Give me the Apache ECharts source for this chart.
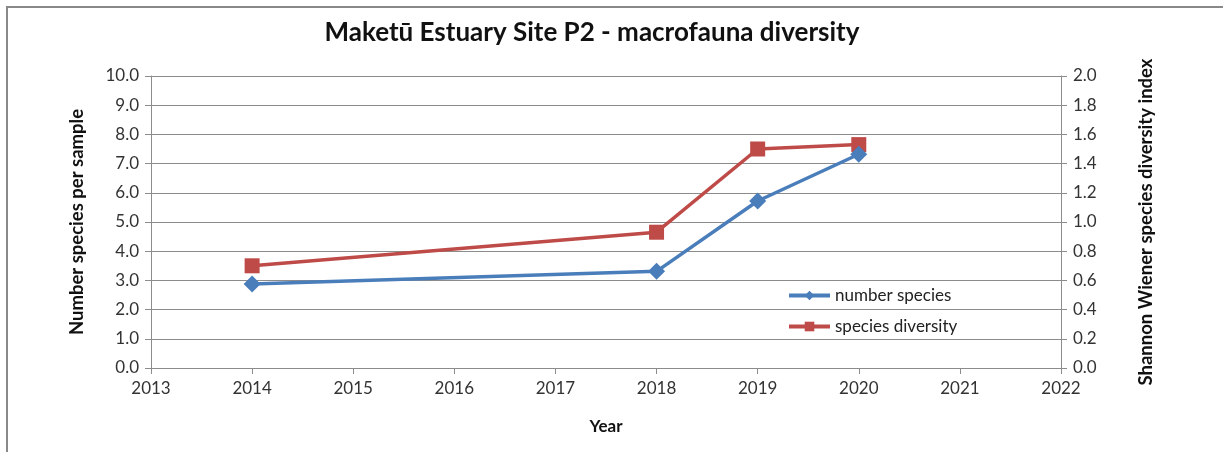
<!DOCTYPE html>
<html lang="en">
	<head>
		<meta charset="UTF-8">
		<title>Maketū Estuary Site P2 - macrofauna diversity</title>
		<style type="text/css">
			html,
			body {
				width: 100%;
				height: 100%;
				margin: 0;
				padding: 0;
				background: #fff;
			}

			#frame {
				position: absolute;
				left: 6px;
				top: 6px;
				right: 0;
				bottom: 0;
				border-top: 2px solid #898989;
				border-left: 2px solid #898989;
			}

			#main {
				position: absolute;
				left: 0;
				top: 0;
				width: 1223px;
				height: 452px;
			}
		</style>
	</head>
	<body>
		<div id="frame"></div>
		<div id="main"></div>

		<script src="https://cdn.jsdelivr.net/npm/echarts@6/dist/echarts.min.js"></script>
		<script type="text/javascript">
			let years = [2014, 2018, 2019, 2020];
			let numberSpecies = [2.88, 3.31, 5.72, 7.32];
			let speciesDiversity = [0.70, 0.93, 1.50, 1.53];
			let seriesNames = ['number species', 'species diversity'];

			let font = 'Lato, "Open Sans", sans-serif';
			let gridColor = '#8c8c8c';

			let myChart = echarts.init(document.getElementById('main'));
			let option = {
				animation: false,
				textStyle: {
					fontFamily: font
				},
				title: {
					text: 'Maketū Estuary Site P2 - macrofauna diversity',
					left: 587,
					top: 15,
					textAlign: 'center',
					textStyle: {
						fontFamily: font,
						fontSize: 26,
						fontWeight: 'bold',
						color: '#111'
					}
				},
				legend: {
					orient: 'vertical',
					left: 782,
					top: 282,
					itemGap: 14,
					itemWidth: 41,
					itemHeight: 12,
					data: seriesNames,
					lineStyle: { width: 4 },
					textStyle: {
						fontSize: 17,
						color: '#222'
					}
				},
				grid: {
					left: 151,
					right: 162,
					top: 76,
					bottom: 84
				},
				xAxis: {
					type: 'value',
					min: 2013,
					max: 2022,
					interval: 1,
					name: 'Year',
					nameLocation: 'middle',
					nameGap: 50,
					nameTextStyle: {
						fontSize: 17,
						fontWeight: 'bold',
						color: '#111'
					},
					axisLine: { lineStyle: { color: gridColor } },
					axisTick: { show: true, length: 6, lineStyle: { color: gridColor } },
					axisLabel: {
						fontSize: 17,
						color: '#333',
						margin: 12,
						formatter: v => String(v)
					},
					splitLine: { show: false }
				},
				yAxis: [{
						type: 'value',
						min: 0,
						max: 10,
						interval: 1,
						name: 'Number species per sample',
						nameLocation: 'middle',
						nameGap: 64,
						nameTextStyle: {
							fontSize: 18.5,
							fontWeight: 'bold',
							color: '#111'
						},
						axisLine: { show: true, lineStyle: { color: gridColor } },
						axisTick: { show: true, length: 6, lineStyle: { color: gridColor } },
						axisLabel: {
							fontSize: 17,
							color: '#333',
							margin: 12,
							formatter: v => v.toFixed(1)
						},
						splitLine: { lineStyle: { color: gridColor, width: 1 } }
					},
					{
						type: 'value',
						min: 0,
						max: 2,
						interval: 0.2,
						position: 'right',
						name: 'Shannon Wiener species diversity index',
						nameLocation: 'middle',
						nameRotate: 90,
						nameGap: 76,
						nameTextStyle: {
							fontSize: 18.5,
							fontWeight: 'bold',
							color: '#111'
						},
						axisLine: { show: true, lineStyle: { color: gridColor } },
						axisTick: { show: true, length: 6, lineStyle: { color: gridColor } },
						axisLabel: {
							fontSize: 17,
							color: '#333',
							margin: 12,
							formatter: v => v.toFixed(1)
						},
						splitLine: { show: false }
					}
				],
				series: [{
						name: seriesNames[0],
						type: 'line',
						yAxisIndex: 0,
						data: years.map((y, i) => [y, numberSpecies[i]]),
						symbol: 'diamond',
						symbolSize: 17,
						itemStyle: { color: '#4a7ebb' },
						lineStyle: { color: '#4a7ebb', width: 3.5 },
						z: 3
					},
					{
						name: seriesNames[1],
						type: 'line',
						yAxisIndex: 1,
						data: years.map((y, i) => [y, speciesDiversity[i]]),
						symbol: 'rect',
						symbolSize: 15,
						itemStyle: { color: '#be4b48' },
						lineStyle: { color: '#be4b48', width: 3.5 },
						z: 2
					}
				]
			};

			myChart.setOption(option);
		</script>
	</body>
</html>
